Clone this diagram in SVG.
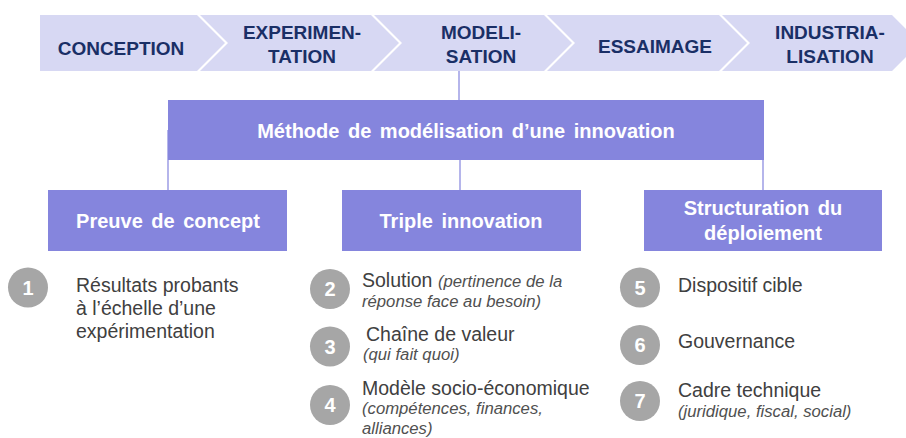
<svg xmlns="http://www.w3.org/2000/svg" width="906" height="438" viewBox="0 0 906 438">
<style>
.chev{fill:#D7D8F3;}
.ct{font-family:"Liberation Sans",Arial,sans-serif;font-weight:bold;font-size:19px;fill:#1A2F66;text-anchor:middle;}
.box{fill:#8585DD;}
.bt{font-family:"Liberation Sans",Arial,sans-serif;font-weight:bold;font-size:20px;fill:#FFFFFF;text-anchor:middle;word-spacing:3px;}
.conn{stroke:#A3A3E6;stroke-width:1.6;fill:none;}
.circ{fill:#A6A6A6;}
.num{font-family:"Liberation Sans",Arial,sans-serif;font-weight:bold;font-size:20px;fill:#FFFFFF;text-anchor:middle;}
.tx{font-family:"Liberation Sans",Arial,sans-serif;font-size:19.5px;fill:#404040;}
.it{font-family:"Liberation Sans",Arial,sans-serif;font-size:16.7px;font-style:italic;fill:#505050;}
</style>
<g id="phases">
<g id="conception"><polygon class="chev" points="40,15 197,15 225,43 197,71 40,71"/><text class="ct" x="121" y="55">CONCEPTION</text></g>
<g id="experimentation"><polygon class="chev" points="200,15 371,15 399,43 371,71 200,71 228,43"/><text class="ct" x="302" y="39">EXPERIMEN-</text><text class="ct" x="302" y="63">TATION</text></g>
<g id="modelisation"><polygon class="chev" points="374,15 544,15 572,43 544,71 374,71 402,43"/><text class="ct" x="481" y="39">MODELI-</text><text class="ct" x="481" y="63">SATION</text></g>
<g id="essaimage"><polygon class="chev" points="547,15 719,15 747,43 719,71 547,71 575,43"/><text class="ct" x="655" y="53">ESSAIMAGE</text></g>
<g id="industrialisation"><polygon class="chev" points="722,15 892,15 920,43 892,71 722,71 750,43"/><text class="ct" x="830" y="39">INDUSTRIA-</text><text class="ct" x="830" y="63">LISATION</text></g>
</g>
<g id="connectors">
<line class="conn" x1="459" y1="71" x2="459" y2="100"/>
<line class="conn" x1="168" y1="130" x2="168" y2="190"/>
<line class="conn" x1="460" y1="160" x2="460" y2="190"/>
<line class="conn" x1="763" y1="130" x2="763" y2="190"/>
</g>
<g id="methode"><rect class="box" x="168" y="100" width="596" height="60"/><text class="bt" x="466" y="138">Méthode de modélisation d’une innovation</text></g>
<g id="preuve"><rect class="box" x="48" y="190" width="239" height="61"/><text class="bt" x="168" y="228">Preuve de concept</text></g>
<g id="triple"><rect class="box" x="342" y="190" width="239" height="61"/><text class="bt" x="461" y="228">Triple innovation</text></g>
<g id="structuration"><rect class="box" x="644" y="190" width="238" height="61"/><text class="bt" x="763" y="215">Structuration du</text><text class="bt" x="763" y="240">déploiement</text></g>
<g id="item1"><circle class="circ" cx="28" cy="287.5" r="20"/><text class="num" x="28" y="294.5">1</text>
<text class="tx" x="76" y="292">Résultats probants</text><text class="tx" x="76" y="315">à l’échelle d’une</text><text class="tx" x="76" y="338">expérimentation</text></g>
<g id="item2"><circle class="circ" cx="330" cy="289" r="20"/><text class="num" x="330" y="296">2</text>
<text x="362" y="287"><tspan class="tx">Solution </tspan><tspan class="it">(pertinence de la</tspan></text><text class="it" x="362" y="306.5">réponse face au besoin)</text></g>
<g id="item3"><circle class="circ" cx="330" cy="346.5" r="20"/><text class="num" x="330" y="353.5">3</text>
<text class="tx" x="366" y="341">Chaîne de valeur</text><text class="it" x="363" y="360">(qui fait quoi)</text></g>
<g id="item4"><circle class="circ" cx="330" cy="405" r="20"/><text class="num" x="330" y="412">4</text>
<text class="tx" x="362" y="394.5">Modèle socio-économique</text><text class="it" x="362" y="414">(compétences, finances,</text><text class="it" x="362" y="433.5">alliances)</text></g>
<g id="item5"><circle class="circ" cx="640" cy="287.5" r="20"/><text class="num" x="640" y="294.5">5</text>
<text class="tx" x="678" y="292">Dispositif cible</text></g>
<g id="item6"><circle class="circ" cx="640" cy="345" r="20"/><text class="num" x="640" y="352">6</text>
<text class="tx" x="678" y="348">Gouvernance</text></g>
<g id="item7"><circle class="circ" cx="640" cy="401" r="20"/><text class="num" x="640" y="408">7</text>
<text class="tx" x="678" y="397">Cadre technique</text><text class="it" x="678" y="416.5">(juridique, fiscal, social)</text></g>
</svg>
